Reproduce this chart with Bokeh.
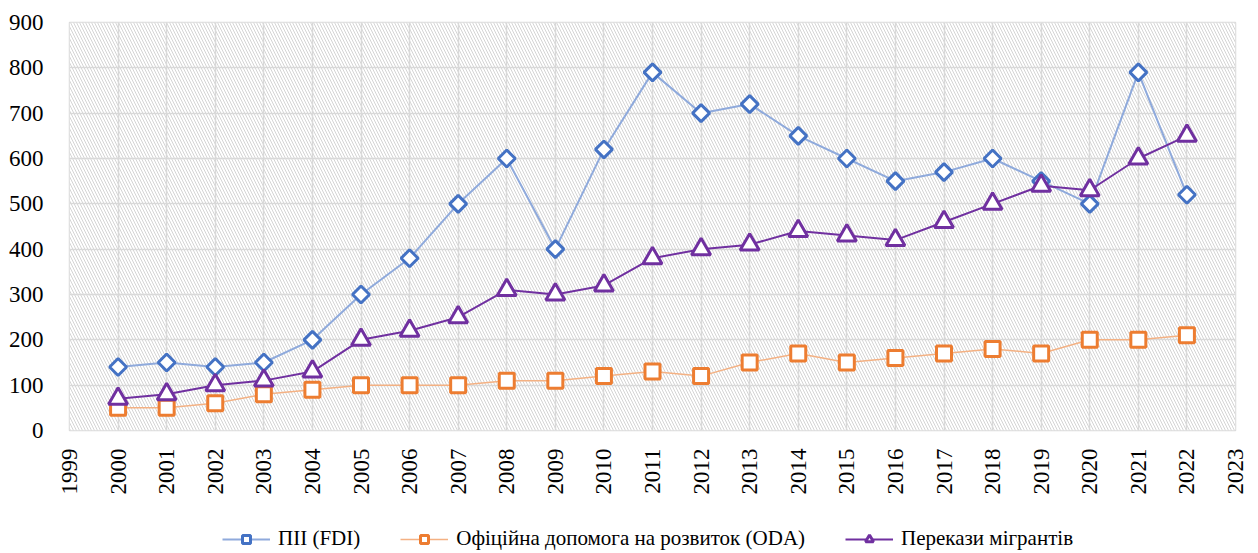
import math
from bokeh.plotting import figure
from bokeh.layouts import column
from bokeh.models import Legend, LegendItem, FixedTicker, BoxAnnotation, ColumnDataSource
from bokeh.embed import file_html
from bokeh.resources import INLINE

years = list(range(2000, 2023))
fdi = [140, 150, 140, 150, 200, 300, 380, 500, 600, 400, 620, 790, 700, 720, 650, 600, 550, 570, 600, 550, 500, 790, 520]
oda = [50, 50, 60, 80, 90, 100, 100, 100, 110, 110, 120, 130, 120, 150, 170, 150, 160, 170, 180, 170, 200, 200, 210]
remit = [70, 80, 100, 110, 130, 200, 220, 250, 310, 300, 320, 380, 400, 410, 440, 430, 420, 460, 500, 540, 530, 600, 650]
labels = ["ПІІ (FDI)", "Офіційна допомога на розвиток (ODA)", "Перекази мігрантів"]

FONT = "Liberation Serif"

styles = [
    dict(line=dict(line_color="#8faadc", line_width=2),
         marker=dict(marker="square", angle=math.pi / 4, size=12, fill_color="white",
                     line_color="#4472c4", line_width=3)),
    dict(line=dict(line_color="#f4b183", line_width=1.5),
         marker=dict(marker="square", size=15, fill_color="white",
                     line_color="#ed7d31", line_width=3)),
    dict(line=dict(line_color="#7030a0", line_width=2),
         marker=dict(marker="triangle", size=19, fill_color="white",
                     line_color="#7030a0", line_width=3)),
]
cols = ["fdi", "oda", "remit"]

src = ColumnDataSource(dict(x=years, fdi=fdi, oda=oda, remit=remit))

# ---- main chart ----
p = figure(width=1258, height=497, x_range=(1999, 2023), y_range=(0, 900),
           output_backend="svg", toolbar_location=None,
           min_border_left=69, min_border_top=22, min_border_right=23, min_border_bottom=0)

p.add_layout(BoxAnnotation(left=1999, right=2023, bottom=0, top=900, fill_color="white",
                           fill_alpha=1, line_color=None, hatch_pattern="\\", hatch_color="#d4d4d4",
                           hatch_scale=6, hatch_weight=1, level="image"))

p.xaxis.ticker = FixedTicker(ticks=list(range(1999, 2024)))
p.yaxis.ticker = FixedTicker(ticks=list(range(0, 1000, 100)))
p.xaxis.major_label_orientation = math.pi / 2
for ax in (p.xaxis, p.yaxis):
    ax.axis_line_color = None
    ax.major_tick_line_color = None
    ax.minor_tick_line_color = None
    ax.major_label_text_font = FONT
    ax.major_label_text_font_size = "23px"
    ax.major_label_text_color = "#000000"
p.yaxis.major_label_standoff = 20
p.xaxis.major_label_standoff = 12
p.xgrid.grid_line_color = "#d9d9d9"
p.ygrid.grid_line_color = "#d9d9d9"
p.xgrid.grid_line_width = 1.5
p.ygrid.grid_line_width = 1.5
p.outline_line_color = "#d9d9d9"
p.outline_line_width = 1.5
p.background_fill_color = "white"

for c, st in zip(cols, styles):
    p.line("x", c, source=src, **st["line"])
    p.scatter("x", c, source=src, **st["marker"])

# ---- legend strip (renderers kept out of view; only their legend glyphs show) ----
lg = figure(width=1258, height=56, x_range=(1999, 2023), y_range=(5000, 6000),
            output_backend="svg", toolbar_location=None,
            x_axis_type=None, y_axis_type=None, min_border=0)
lg.grid.visible = False
lg.outline_line_color = None

items = []
for c, st, lab in zip(cols, styles, labels):
    rl = lg.line("x", c, source=src, **st["line"])
    rm = lg.scatter("x", c, source=src, **st["marker"])
    items.append(LegendItem(label=lab, renderers=[rl, rm]))

legend = Legend(items=items, orientation="horizontal", location=(153, 2),
                label_text_font="Liberation Serif, Times New Roman, serif",
                label_text_font_size="21px", label_text_font_style="normal",
                label_text_color="#000000",
                border_line_color=None, background_fill_alpha=0,
                glyph_width=48, label_standoff=8, spacing=40, margin=0, padding=3)
lg.add_layout(legend, "center")

layout = column(p, lg, spacing=0)
open("out.html", "w").write(file_html(layout, INLINE))
